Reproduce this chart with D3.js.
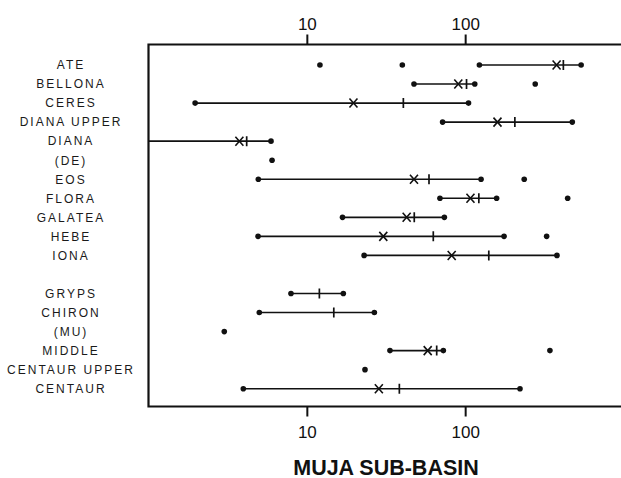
<!DOCTYPE html>
<html>
<head>
<meta charset="utf-8">
<script src="https://cdn.jsdelivr.net/npm/d3@7"></script>
<style>
  html, body { margin: 0; padding: 0; background: #fff; }
  svg { display: block; }
</style>
</head>
<body>
<svg id="chart" width="621" height="478"></svg>
<script>
// Sub-basin names, top to bottom; a blank row separates the two groups.
const sites = ["ATE", "BELLONA", "CERES", "DIANA UPPER", "DIANA", "(DE)", "EOS", "FLORA",
  "GALATEA", "HEBE", "IONA", "GRYPS", "CHIRON", "(MU)", "MIDDLE", "CENTAUR UPPER", "CENTAUR"];
const groupBreakAfter = 10;   // index of the last row of the first group

// Range ends (dots joined by a line); null where a site has no range.
const rangeLow  = [123, 47.5, 1.97, 72, 0.5, null, 4.94, 69.3, 16.8, 4.92, 23, 7.94, 5.01, null, 33.5, null, 3.97];
const rangeHigh = [540, 115, 105, 475, 5.94, null, 126, 158, 73.9, 176, 380, 17, 26.7, null, 72.8, null, 222];
// Cross marker values and bar marker values along each range.
const crossValues = [378, 90.5, 19.7, 160, 3.75, null, 47.5, 108, 42.7, 30.4, 82.2, null, null, null, 58, null, 28.5];
const barValues   = [417, 102, 40.7, 206, 4.17, null, 59.1, 122, 47.7, 62.9, 141, 12, 14.8, null, 66.1, null, 38.4];
// Separate single values drawn as lone dots.
const singleValues = [[12.1, 40.1], [277], [], [], [], [6.03], [236], [444], [], [327], [], [], [], [3.01], [343], [23.3], []];

const tickValues = [10, 100];
const axisTitle = "MUJA SUB-BASIN";

const svg = d3.select("#chart");
const ink = "#111";
const frame = { left: 148.5, right: 623.5, top: 44.5, bottom: 406.5 };

const x = d3.scaleLog().domain([1, 1000]).range([frame.left, frame.right]);
const slot = i => i + (i > groupBreakAfter ? 1 : 0);
const y = d3.scaleLinear().domain([0, 17]).range([65, 388.7]);

// Row labels
svg.append("g")
  .selectAll("text")
  .data(sites)
  .join("text")
  .attr("x", 71)
  .attr("y", (d, i) => y(slot(i)) + 4.3)
  .attr("text-anchor", "middle")
  .attr("font-family", "'Liberation Sans', Arial, sans-serif")
  .attr("font-size", 12)
  .attr("letter-spacing", "2px")
  .attr("fill", "#1a1a1a")
  .text(d => d);

// Plot frame (open on the right)
svg.append("path")
  .attr("d", `M${frame.right},${frame.top}H${frame.left}V${frame.bottom}H${frame.right}`)
  .attr("fill", "none")
  .attr("stroke", ink)
  .attr("stroke-width", 2.2);

// Axes
const fmt = d3.format("d");
const topAxis = svg.append("g")
  .attr("transform", `translate(0,${frame.top})`)
  .call(d3.axisTop(x).tickValues(tickValues).tickFormat(fmt).tickSize(10).tickPadding(5));
const bottomAxis = svg.append("g")
  .attr("transform", `translate(0,${frame.bottom})`)
  .call(d3.axisBottom(x).tickValues(tickValues).tickFormat(fmt).tickSize(10).tickPadding(9));
[topAxis, bottomAxis].forEach(g => {
  g.select(".domain").remove();
  g.selectAll(".tick line").attr("stroke", ink).attr("stroke-width", 2);
  g.selectAll(".tick text")
    .attr("fill", ink)
    .attr("font-family", "'Liberation Sans', Arial, sans-serif")
    .attr("font-size", 17);
});

// Axis title
svg.append("text")
  .attr("x", 386)
  .attr("y", 474.5)
  .attr("text-anchor", "middle")
  .attr("font-family", "'Liberation Sans', Arial, sans-serif")
  .attr("font-weight", "bold")
  .attr("font-size", 21.5)
  .attr("fill", ink)
  .text(axisTitle);

// Data marks, clipped to the plot frame
svg.append("clipPath").attr("id", "plot-clip")
  .append("rect")
  .attr("x", frame.left).attr("y", frame.top)
  .attr("width", frame.right - frame.left).attr("height", frame.bottom - frame.top);

const plot = svg.append("g").attr("clip-path", "url(#plot-clip)");

const rows = sites.map((name, i) => ({
  name, yPos: y(slot(i)),
  low: rangeLow[i], high: rangeHigh[i],
  cross: crossValues[i], bar: barValues[i],
  singles: singleValues[i]
}));

// Range lines
plot.selectAll("line.range")
  .data(rows.filter(r => r.low != null && r.high != null))
  .join("line")
  .attr("class", "range")
  .attr("x1", r => x(r.low)).attr("x2", r => x(r.high))
  .attr("y1", r => r.yPos).attr("y2", r => r.yPos)
  .attr("stroke", ink).attr("stroke-width", 1.6);

// End dots and lone dots
const dots = [];
rows.forEach(r => {
  if (r.low != null && r.low >= 1) dots.push({ v: r.low, yPos: r.yPos });
  if (r.high != null) dots.push({ v: r.high, yPos: r.yPos });
  r.singles.forEach(v => dots.push({ v, yPos: r.yPos }));
});
plot.selectAll("circle")
  .data(dots)
  .join("circle")
  .attr("cx", d => x(d.v)).attr("cy", d => d.yPos)
  .attr("r", 2.8)
  .attr("fill", ink);

// Bar markers
plot.selectAll("line.bar")
  .data(rows.filter(r => r.bar != null))
  .join("line")
  .attr("class", "bar")
  .attr("x1", r => x(r.bar)).attr("x2", r => x(r.bar))
  .attr("y1", r => r.yPos - 5).attr("y2", r => r.yPos + 5)
  .attr("stroke", ink).attr("stroke-width", 1.7);

// Cross markers
plot.selectAll("path.cross")
  .data(rows.filter(r => r.cross != null))
  .join("path")
  .attr("class", "cross")
  .attr("d", r => {
    const cx = x(r.cross), cy = r.yPos;
    return `M${cx - 4},${cy - 4.5}L${cx + 4},${cy + 4.5}M${cx - 4},${cy + 4.5}L${cx + 4},${cy - 4.5}`;
  })
  .attr("fill", "none")
  .attr("stroke", ink).attr("stroke-width", 1.6);
</script>
</body>
</html>
